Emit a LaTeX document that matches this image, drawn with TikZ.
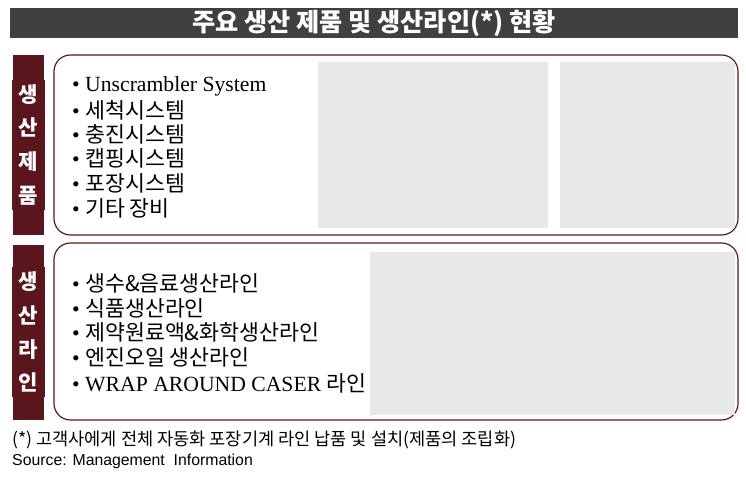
\documentclass[tikz,border=0pt]{standalone}
\usepackage{fontspec}
\setmainfont{Liberation Serif}
\newfontfamily\kr{Noto Sans CJK KR}
\usetikzlibrary{positioning}
\definecolor{maroon}{RGB}{90,22,28}
\definecolor{titlegray}{RGB}{64,64,64}
\begin{document}
\begin{tikzpicture}[x=0.03cm, y=-0.03cm]
    \tikzset{sidebox/.style={fill=maroon, text=white, text width=22, align=center,
        font=\kr\bfseries\fontsize{18}{29}\selectfont},
      panel/.style={draw=maroon, line width=1pt, rounded corners=14pt},
      photo/.style={fill=gray!18},
      item/.style={anchor=west, inner sep=0pt, font=\fontsize{18.5}{20}\selectfont}}
    \useasboundingbox (0,0) rectangle (746,480);
    % title
    \fill [titlegray] (10,8) rectangle (738,38);
    \node [text=white, font=\kr\bfseries\fontsize{21.5}{24}\selectfont] (title) at (374,23)
      {주요 생산 제품 및 생산라인(*) 현황};
    % products
    \fill [maroon] (13,55) rectangle (44,235);
    \node [sidebox] (prodlabel) at (28.5,145) {생\\산\\제\\품};
    \draw [panel] (54,55) rectangle (738,235);
    \fill [photo] (318,62) rectangle (548,228);
    \fill [photo] (560,62) rectangle (735,228);
    \node [item] (p1) at (72,86) {• Unscrambler System};
    \node [item] (p2) at (72,110) {• \kr 세척시스템};
    \node [item] (p3) at (72,134) {• \kr 충진시스템};
    \node [item] (p4) at (72,158) {• \kr 캡핑시스템};
    \node [item] (p5) at (72,183) {• \kr 포장시스템};
    \node [item] (p6) at (72,208) {• \kr 기타 장비};
    % lines
    \fill [maroon] (13,245) rectangle (44,420);
    \node [sidebox] (linelabel) at (28.5,332) {생\\산\\라\\인};
    \draw [panel] (54,243) rectangle (738,420);
    \fill [photo] (370,252) rectangle (735,415);
    \node [item] (l1) at (72,283) {• {\kr 생수\&음료생산라인}};
    \node [item] (l2) at (72,308) {• {\kr 식품생산라인}};
    \node [item] (l3) at (72,332) {• {\kr 제약원료액\&화학생산라인}};
    \node [item] (l4) at (72,357) {• {\kr 엔진오일 생산라인}};
    \node [item] (l5) at (72,383) {• WRAP AROUND CASER {\kr 라인}};
    % notes
    \node [anchor=west, inner sep=0pt, font=\kr\fontsize{15}{17}\selectfont] (note) at (12,440)
      {(*) 고객사에게 전체 자동화 포장기계 라인 납품 및 설치(제품의 조립화)};
    \node [anchor=west, inner sep=0pt, font=\fontspec{Liberation Sans}\fontsize{13.5}{16}\selectfont] (source) at (12,461)
      {Source: Management\ \ Information};
\end{tikzpicture}
\end{document}
